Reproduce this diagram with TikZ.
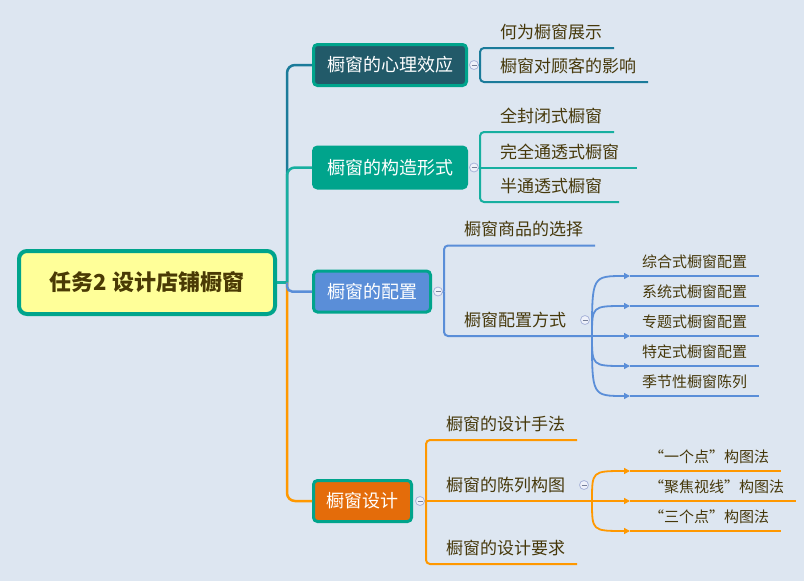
\documentclass[tikz,border=0pt]{standalone}
\usepackage{fontspec}
\setmainfont{Noto Sans CJK SC}
\usepackage{xcolor}
\usetikzlibrary{positioning,arrows.meta}
\definecolor{bgblue}{RGB}{221,230,241}
\definecolor{rootyellow}{HTML}{FFFF99}
\definecolor{rootink}{HTML}{4A3A05}
\definecolor{ink}{RGB}{70,56,10}
\definecolor{tealline}{HTML}{00A48C}
\definecolor{slate}{HTML}{225A69}
\definecolor{blueb}{HTML}{5A8ED8}
\definecolor{orangeb}{HTML}{E46C0A}
\definecolor{lpsy}{HTML}{1B7B9A}
\definecolor{lform}{HTML}{17AFA0}
\definecolor{lconf}{HTML}{5A8ED8}
\definecolor{ldes}{HTML}{FF9800}
\definecolor{foldfill}{HTML}{EEF1FA}
\definecolor{foldline}{HTML}{A9B5DA}

\begin{document}
\begin{tikzpicture}[
  x=1pt, y=-1pt,
  root/.style={draw=tealline, line width=4pt, fill=rootyellow, rounded corners=8pt, minimum width=256pt, minimum height=63pt, text=rootink, font=\fontsize{22}{24}\selectfont\bfseries},
  topic/.style={draw=tealline, line width=3pt, rounded corners=4pt, minimum height=41pt, text=white, font=\fontsize{18}{20}\selectfont},
  sub/.style={anchor=south west, inner sep=0pt, outer sep=0pt, minimum height=32pt, text=ink, font=\fontsize{17}{19}\selectfont},
  subsub/.style={anchor=south west, inner sep=0pt, outer sep=0pt, minimum height=28pt, text=ink, font=\fontsize{15}{17}\selectfont},
  fold/.style={circle, minimum size=9pt, inner sep=0pt, fill=foldfill, draw=foldline, line width=0.8pt,
    path picture={\draw[foldline!70!black, line width=1pt] ([xshift=-2.5pt]path picture bounding box.center) -- ([xshift=2.5pt]path picture bounding box.center);}},
  branch/.style={line width=2.5pt},
  twig/.style={line width=2pt},
  fan/.style={line width=1.8pt, -{Triangle[length=6pt,width=6pt]}}
]
  % Background
  \useasboundingbox (0,0) rectangle (804,581);
  \fill[bgblue] (0,0) rectangle (804,581);

  % Root
  \node[root] (root) at (147,282.5) {任务2 设计店铺橱窗};

  % Main topics
  \node[topic, fill=slate, minimum width=153pt] (psy) at (390,65) {橱窗的心理效应};
  \node[topic, fill=tealline, minimum width=153pt] (form) at (390,167.5) {橱窗的构造形式};
  \node[topic, fill=blueb, minimum width=117pt] (conf) at (372,291.5) {橱窗的配置};
  \node[topic, fill=orangeb, minimum width=98pt] (des) at (362.5,501) {橱窗设计};

  % Trunk
  \draw[branch, lform] (root.east) -- ++(10,0) coordinate (hub);
  \draw[branch, lpsy, rounded corners=8pt] (hub) |- (psy.west);
  \draw[branch, lform, rounded corners=8pt] (hub) |- (form.west);
  \draw[branch, ldes, rounded corners=8pt] (hub) |- (des.west);
  \draw[branch, lconf, rounded corners=5pt] (hub) |- (conf.west);

  % Psychology branch
  \coordinate (c1) at ([xshift=6pt]psy.east);
  \node[sub] (t11) at (500,48) {何为橱窗展示};
  \node[sub] (t12) at (500,82) {橱窗对顾客的影响};
  \draw[twig, lpsy] (c1) -- ++(6,0) coordinate (k1);
  \draw[twig, lpsy, rounded corners=4pt] (k1) |- ([xshift=12pt]t11.south east);
  \draw[twig, lpsy, rounded corners=4pt] (k1) |- ([xshift=12pt]t12.south east);

  % Form branch
  \coordinate (c2) at ([xshift=6pt]form.east);
  \node[sub] (t21) at (500,132) {全封闭式橱窗};
  \node[sub] (t22) at (500,167.5) {完全通透式橱窗};
  \node[sub] (t23) at (500,202) {半通透式橱窗};
  \draw[twig, lform] (c2) -- ++(6,0) coordinate (k2);
  \draw[twig, lform, rounded corners=4pt] (k2) |- ([xshift=12pt]t21.south east);
  \draw[twig, lform] (c2) -- ([xshift=18pt]t22.south east);
  \draw[twig, lform, rounded corners=4pt] (k2) |- ([xshift=17pt]t23.south east);

  % Configuration branch
  \coordinate (c3) at ([xshift=6pt]conf.east);
  \node[sub] (t31) at (464,245.5) {橱窗商品的选择};
  \node[sub] (t32) at (464,336) {橱窗配置方式};
  \coordinate (s32) at ([xshift=26pt]t32.south east);
  \coordinate (d32) at ([xshift=19pt]t32.east);
  \draw[twig, lconf] (c3) -- ++(6,0) coordinate (k3);
  \draw[twig, lconf, rounded corners=4pt] (k3) |- ([xshift=12pt]t31.south east);
  \draw[twig, lconf, rounded corners=4pt] (k3) |- (s32);
  \node[subsub] (t331) at (642,276) {综合式橱窗配置};
  \node[subsub] (t332) at (642,306) {系统式橱窗配置};
  \node[subsub] (t333) at (642,336) {专题式橱窗配置};
  \node[subsub] (t334) at (642,366) {特定式橱窗配置};
  \node[subsub] (t335) at (642,396) {季节性橱窗陈列};
  \foreach \i in {1,...,5} {
    \draw[fan, lconf] (s32) .. controls (s32 |- t33\i.south west) .. ([xshift=-12pt]t33\i.south west);
    \draw[twig, lconf] ([xshift=-12pt]t33\i.south west) -- ([xshift=12pt]t33\i.south east);
  }

  % Design branch
  \coordinate (c4) at ([xshift=7pt]des.east);
  \node[sub] (t41) at (446,440) {橱窗的设计手法};
  \node[sub] (t42) at (446,501) {橱窗的陈列构图};
  \node[sub] (t43) at (446,564) {橱窗的设计要求};
  \coordinate (s42) at ([xshift=27pt]t42.south east);
  \coordinate (d42) at ([xshift=19pt]t42.east);
  \draw[twig, ldes] (c4) -- ++(6,0) coordinate (k4);
  \draw[twig, ldes, rounded corners=4pt] (k4) |- ([xshift=12pt]t41.south east);
  \draw[twig, ldes, rounded corners=4pt] (k4) |- ([xshift=12pt]t43.south east);
  \draw[twig, ldes] (c4) -- (s42);
  \node[subsub] (t441) at (649,471) {“一个点”构图法};
  \node[subsub] (t442) at (649,501) {“聚焦视线”构图法};
  \node[subsub] (t443) at (649,531) {“三个点”构图法};
  \foreach \i in {1,2,3} {
    \draw[fan, ldes] (s42) .. controls (s42 |- t44\i.south west) .. ([xshift=-19pt]t44\i.south west);
    \draw[twig, ldes] ([xshift=-19pt]t44\i.south west) -- ([xshift=12pt]t44\i.south east);
  }

  % Fold markers
  \node[fold] (f1) at (c1) {};
  \node[fold] (f2) at (c2) {};
  \node[fold] (f3) at (c3) {};
  \node[fold] (f4) at (c4) {};
  \node[fold] (f32) at (d32) {};
  \node[fold] (f42) at (d42) {};
\end{tikzpicture}
\end{document}
